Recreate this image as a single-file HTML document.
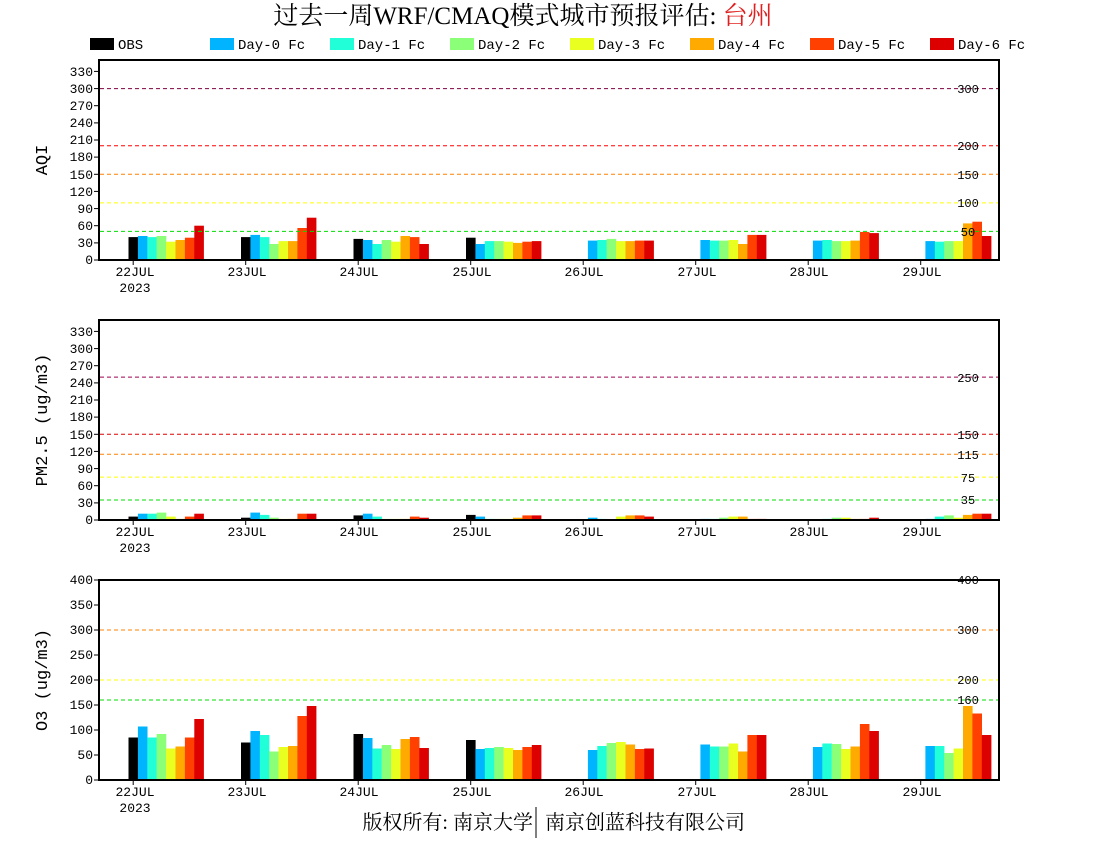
<!DOCTYPE html>
<html><head><meta charset="utf-8">
<style>
html,body{margin:0;padding:0;background:#fff;}
svg{display:block;}
text{font-family:"Liberation Mono","Noto Sans CJK SC",monospace;font-size:13px;fill:#000;}
.cj{font-family:"Liberation Serif","Noto Serif CJK SC","Noto Sans CJK SC",serif;}
</style></head><body>
<svg id="s" width="1100" height="850" viewBox="0 0 1100 850" xmlns="http://www.w3.org/2000/svg">
<text x="523" y="24" text-anchor="middle" class="cj" style="font-size:25px">过去一周WRF/CMAQ模式城市预报评估: <tspan fill="#e02020">台州</tspan></text>
<g id="leg">
<rect x="90" y="38" width="24" height="12" fill="#000"/><text x="118" y="49" style="font-size:14px">OBS</text>
<rect x="210" y="38" width="24" height="12" fill="#00b4ff"/><text x="238" y="49" style="font-size:14px">Day-0 Fc</text>
<rect x="330" y="38" width="24" height="12" fill="#20ffd8"/><text x="358" y="49" style="font-size:14px">Day-1 Fc</text>
<rect x="450" y="38" width="24" height="12" fill="#8cff78"/><text x="478" y="49" style="font-size:14px">Day-2 Fc</text>
<rect x="570" y="38" width="24" height="12" fill="#e8ff20"/><text x="598" y="49" style="font-size:14px">Day-3 Fc</text>
<rect x="690" y="38" width="24" height="12" fill="#ffaa00"/><text x="718" y="49" style="font-size:14px">Day-4 Fc</text>
<rect x="810" y="38" width="24" height="12" fill="#ff4000"/><text x="838" y="49" style="font-size:14px">Day-5 Fc</text>
<rect x="930" y="38" width="24" height="12" fill="#dc0000"/><text x="958" y="49" style="font-size:14px">Day-6 Fc</text>
</g>
<g id="bars"></g>
<g id="lines"></g>
<g text-anchor="end">
<text x="93" y="264">0</text><text x="93" y="247">30</text><text x="93" y="230">60</text><text x="93" y="213">90</text><text x="93" y="196">120</text><text x="93" y="179">150</text><text x="93" y="161">180</text><text x="93" y="144">210</text><text x="93" y="127">240</text><text x="93" y="110">270</text><text x="93" y="93">300</text><text x="93" y="76">330</text>
<text x="93" y="524">0</text><text x="93" y="507">30</text><text x="93" y="490">60</text><text x="93" y="473">90</text><text x="93" y="456">120</text><text x="93" y="439">150</text><text x="93" y="421">180</text><text x="93" y="404">210</text><text x="93" y="387">240</text><text x="93" y="370">270</text><text x="93" y="353">300</text><text x="93" y="336">330</text>
<text x="93" y="784">0</text><text x="93" y="759">50</text><text x="93" y="734">100</text><text x="93" y="709">150</text><text x="93" y="684">200</text><text x="93" y="659">250</text><text x="93" y="634">300</text><text x="93" y="609">350</text><text x="93" y="584">400</text>
</g>
<g text-anchor="middle">
<text x="968" y="93" style="font-size:12px">300</text><text x="968" y="150" style="font-size:12px">200</text><text x="968" y="179" style="font-size:12px">150</text><text x="968" y="207" style="font-size:12px">100</text><text x="968" y="236" style="font-size:12px">50</text>
<text x="968" y="382" style="font-size:12px">250</text><text x="968" y="439" style="font-size:12px">150</text><text x="968" y="459" style="font-size:12px">115</text><text x="968" y="482" style="font-size:12px">75</text><text x="968" y="504" style="font-size:12px">35</text>
<text x="968" y="584" style="font-size:12px">400</text><text x="968" y="634" style="font-size:12px">300</text><text x="968" y="684" style="font-size:12px">200</text><text x="968" y="704" style="font-size:12px">160</text>
</g>
<g text-anchor="middle">
<text x="135" y="276">22JUL</text><text x="135" y="292">2023</text><text x="247" y="276">23JUL</text><text x="359" y="276">24JUL</text><text x="472" y="276">25JUL</text><text x="584" y="276">26JUL</text><text x="697" y="276">27JUL</text><text x="809" y="276">28JUL</text><text x="922" y="276">29JUL</text>
<text x="135" y="536">22JUL</text><text x="135" y="552">2023</text><text x="247" y="536">23JUL</text><text x="359" y="536">24JUL</text><text x="472" y="536">25JUL</text><text x="584" y="536">26JUL</text><text x="697" y="536">27JUL</text><text x="809" y="536">28JUL</text><text x="922" y="536">29JUL</text>
<text x="135" y="796">22JUL</text><text x="135" y="812">2023</text><text x="247" y="796">23JUL</text><text x="359" y="796">24JUL</text><text x="472" y="796">25JUL</text><text x="584" y="796">26JUL</text><text x="697" y="796">27JUL</text><text x="809" y="796">28JUL</text><text x="922" y="796">29JUL</text>
</g>
<text transform="translate(47,160) rotate(-90)" text-anchor="middle" style="font-size:17px">AQI</text>
<text transform="translate(47,420) rotate(-90)" text-anchor="middle" style="font-size:17px">PM2.5 (ug/m3)</text>
<text transform="translate(47,680) rotate(-90)" text-anchor="middle" style="font-size:17px">O3 (ug/m3)</text>
<text x="533" y="829" text-anchor="end" class="cj" style="font-size:20px">版权所有: 南京大学</text>
<line x1="536" y1="807" x2="536" y2="838" stroke="#000" stroke-width="1"/>
<text x="545" y="829" class="cj" style="font-size:20px">南京创蓝科技有限公司</text>
</svg>
<script>
var NS="http://www.w3.org/2000/svg";
var cols=["#000","#00b4ff","#20ffd8","#8cff78","#e8ff20","#ffaa00","#ff4000","#dc0000"];
var panels=[
{top:60,bot:260,max:350,step:30,
data:[[40,42,40,42,32,35,39,60],[40,44,40,28,33,33,56,74],[37,35,28,35,32,42,40,28],[39,28,33,33,32,30,32,33],[0,34,35,37,33,33,34,34],[0,35,34,34,35,28,44,44],[0,34,35,33,33,34,49,47],[0,33,32,33,33,64,67,42]],
lines:[[300,"#800040"],[200,"#ff0000"],[150,"#ff8000"],[100,"#ffff00"],[50,"#00dd00"]]},
{top:320,bot:520,max:350,step:30,
data:[[6,11,11,13,6,2,6,11],[4,13,9,4,2,2,11,11],[8,11,6,2,2,2,6,4],[9,6,2,2,2,4,8,8],[0,4,2,0,6,8,8,6],[0,2,2,4,6,6,2,2],[0,0,2,4,4,2,2,4],[0,2,6,8,4,9,11,11]],
lines:[[250,"#a00050"],[150,"#dd0000"],[115,"#ff8000"],[75,"#ffff00"],[35,"#00dd00"]]},
{top:580,bot:780,max:400,step:50,
data:[[85,107,85,92,63,67,85,122],[75,98,90,57,66,68,128,148],[92,84,63,70,62,82,86,64],[80,62,64,66,64,60,66,70],[0,60,68,74,76,71,62,63],[0,71,67,67,73,57,90,90],[0,66,73,72,62,67,112,98],[0,68,68,54,63,148,133,90]],
lines:[[400,"#ff0000"],[300,"#ff8000"],[200,"#ffff00"],[160,"#00dd00"]]}
];
var gb=document.getElementById("bars"),gl=document.getElementById("lines");
function el(g,t,a){var e=document.createElementNS(NS,t);for(var k in a)e.setAttribute(k,a[k]);g.appendChild(e);return e;}
panels.forEach(function(p){
 var sc=(p.bot-p.top)/p.max;
 p.data.forEach(function(d,i){
  var tx=133.2+112.5*i;
  d.forEach(function(v,k){ if(v>0){var h=v*sc; el(gb,"rect",{x:(tx-4.7+9.4*k).toFixed(1),y:(p.bot-h).toFixed(1),width:9.6,height:h.toFixed(1),fill:cols[k]});}});
 });
 p.lines.forEach(function(l){var y=(p.bot-l[0]*sc).toFixed(1);el(gl,"line",{x1:100,x2:999,y1:y,y2:y,stroke:l[1],"stroke-width":1,"stroke-dasharray":"4,3"});});
 el(gl,"rect",{x:99,y:p.top,width:900,height:p.bot-p.top,fill:"none",stroke:"#000","stroke-width":2});
 for(var v=0;v<=p.max;v+=p.step){var y=(p.bot-v*sc).toFixed(1);el(gl,"line",{x1:94,x2:99,y1:y,y2:y,stroke:"#000","stroke-width":1});}
 for(var i=0;i<8;i++){var x=133.2+112.5*i;el(gl,"line",{x1:x,x2:x,y1:p.bot,y2:p.bot+5,stroke:"#000","stroke-width":1});}
});
</script>
</body></html>
